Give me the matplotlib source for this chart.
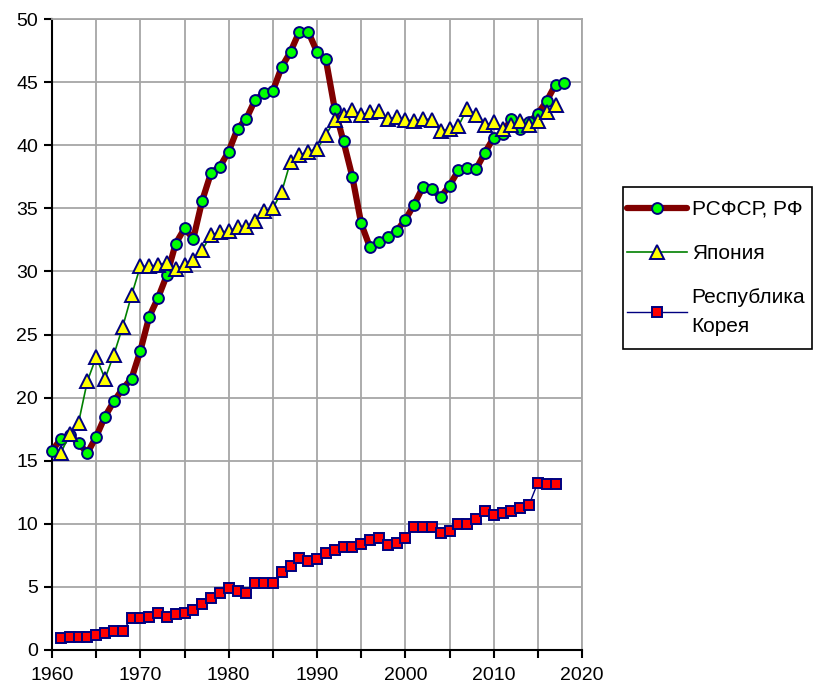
import matplotlib
matplotlib.use("Agg")
import matplotlib.pyplot as plt
from matplotlib.patches import Rectangle
from matplotlib.ticker import MultipleLocator, FuncFormatter

plt.rcParams['font.family'] = ['Liberation Sans', 'DejaVu Sans']

# ---- data ----
years_ru = list(range(1960, 2019))
russia = [15.8, 16.7, 17.0, 16.4, 15.6, 16.9, 18.5, 19.7, 20.7, 21.5,
          23.7, 26.4, 27.9, 29.7, 32.2, 33.4, 32.6, 35.6, 37.8, 38.3,
          39.5, 41.3, 42.1, 43.6, 44.1, 44.3, 46.2, 47.4, 49.0, 49.0,
          47.4, 46.8, 42.9, 40.3, 37.5, 33.8, 31.9, 32.3, 32.7, 33.2,
          34.1, 35.3, 36.7, 36.5, 35.9, 36.8, 38.0, 38.2, 38.1, 39.4,
          40.6, 40.9, 42.1, 41.3, 41.8, 42.5, 43.5, 44.8, 44.9]

years_jp = list(range(1961, 2018))
japan = [15.6, 17.1, 18.0, 21.3, 23.2, 21.5, 23.4, 25.6, 28.1,
         30.4, 30.4, 30.5, 30.7, 30.2, 30.5, 30.9, 31.7, 32.9, 33.1,
         33.2, 33.5, 33.5, 34.0, 34.8, 35.0, 36.3, 38.7, 39.2, 39.5,
         39.7, 40.8, 42.0, 42.4, 42.8, 42.4, 42.6, 42.7, 42.1, 42.2,
         42.0, 41.9, 42.1, 42.0, 41.1, 41.3, 41.5, 42.9, 42.4, 41.6,
         41.8, 41.3, 41.6, 41.9, 41.6, 41.9, 42.6, 43.2]

years_kr = list(range(1961, 2018))
korea = [0.93, 1.06, 1.06, 1.06, 1.19, 1.37, 1.53, 1.53, 2.5,
         2.5, 2.64, 2.96, 2.64, 2.83, 2.96, 3.17, 3.62, 4.1, 4.54,
         4.89, 4.7, 4.54, 5.33, 5.33, 5.33, 6.15, 6.66, 7.26, 7.08,
         7.21, 7.71, 7.92, 8.19, 8.19, 8.37, 8.72, 8.85, 8.32, 8.5,
         8.85, 9.77, 9.77, 9.77, 9.25, 9.43, 9.96, 9.96, 10.38, 11.04,
         10.7, 10.88, 11.04, 11.23, 11.49, 13.26, 13.13, 13.13]

labels = ["РСФСР, РФ", "Япония", "Республика\nКорея"]

# ---- figure ----
W, H = 814, 693
fig = plt.figure(figsize=(W/100, H/100), dpi=100)
ax = fig.add_axes([52/W, 1 - 650/H, (582 - 52)/W, (650 - 19)/H])

navy = '#000080'
ax.plot(years_ru, russia, color='#800000', lw=4.5, marker='o', ms=7.8,
        mfc='#00ff00', mec=navy, mew=1.4, label=labels[0], clip_on=False,
        zorder=3, solid_capstyle='round', solid_joinstyle='round')
ax.plot(years_jp, japan, color='#008000', lw=1.2, marker='^', ms=10,
        mfc='#ffff00', mec=navy, mew=1.4, label=labels[1], clip_on=False,
        zorder=4)
ax.plot(years_kr, korea, color=navy, lw=1.0, marker='s', ms=7.5,
        mfc='#ff0000', mec=navy, mew=1.4, label=labels[2], clip_on=False,
        zorder=5)

ax.set_xlim(1960, 2020)
ax.set_ylim(0, 50)
ax.xaxis.set_major_locator(MultipleLocator(5))
ax.xaxis.set_major_formatter(FuncFormatter(lambda v, p: f"{int(round(v))}" if int(round(v)) % 10 == 0 else ""))
ax.yaxis.set_major_locator(MultipleLocator(5))
ax.grid(True, color='#a6a6a6', lw=1.3, zorder=0)
ax.set_axisbelow(True)

for s in ['top', 'right']:
    ax.spines[s].set_color('#a6a6a6')
    ax.spines[s].set_linewidth(1.3)
for s in ['left', 'bottom']:
    ax.spines[s].set_color('black')
    ax.spines[s].set_linewidth(1.5)

ax.tick_params(axis='both', direction='out', length=6, width=1.5,
               color='black', labelsize=14, pad=4)
ax.tick_params(axis='x', pad=6)

# legend frame drawn separately
fig.patches.append(Rectangle((623/W, 1 - 349/H), (812 - 623)/W, (349 - 187)/H,
                             transform=fig.transFigure, fill=False,
                             edgecolor='black', lw=1.2))
leg = fig.legend(loc='upper left', bbox_to_anchor=(627/W, 1 - 200/H),
                 bbox_transform=fig.transFigure, fontsize=15,
                 frameon=False, handlelength=2.9, handletextpad=0.2,
                 labelspacing=1.2, borderpad=0, borderaxespad=0)
for t in leg.get_texts():
    t.set_linespacing(1.65)

fig.savefig('out.png', dpi=100, facecolor='white')
